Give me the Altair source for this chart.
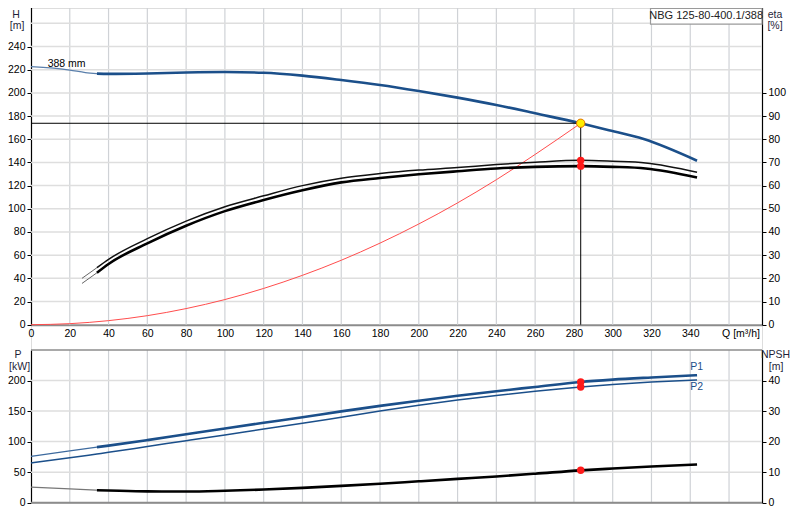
import altair as alt
import pandas as pd

# ---------------- data ----------------
# pump head curve  (Q [m3/h], H [m])
h_q   = [0, 20, 28, 34, 40, 60, 80, 100, 120, 140, 160, 180, 200, 220, 240, 260, 283.5, 297, 316, 343.5]
h_val = [222.6, 219.7, 217.5, 216.6, 216.4, 216.8, 217.6, 218.0, 217.4, 214.9, 211.1, 206.8,
         201.6, 195.9, 189.6, 182.4, 173.8, 168.3, 160.2, 141.5]

# system curve (red)
sys_q = [0, 20, 40, 60, 80, 100, 120, 140, 160, 180, 200, 220, 240, 260, 283.5]
sys_h = [0, 0.9, 3.5, 7.8, 13.9, 21.7, 31.3, 42.6, 55.6, 70.4, 86.9, 105.1, 125.1, 146.9, 173.8]

# efficiency curves [%]
eta_q   = [26.3, 34, 40, 60, 80, 100, 120, 140, 160, 180, 200, 220, 240, 260, 283.5, 300, 317, 343.5]
eta_up  = [20.0, 24.6, 28.2, 37.1, 44.7, 50.9, 55.6, 60.0, 63.2, 65.2, 66.7, 67.8, 69.1, 70.1, 70.9, 70.5, 69.8, 65.8]
eta_low = [17.8, 22.4, 26.2, 35.1, 42.7, 49.0, 53.8, 58.0, 61.4, 63.3, 64.9, 66.2, 67.4, 68.1, 68.4, 68.1, 67.4, 63.5]

# power P1 / P2 [kW] and NPSH [m]
p_q  = [0, 20, 34, 40, 60, 80, 100, 120, 140, 160, 180, 200, 220, 240, 260, 283.5, 300, 320, 343.5]
p1   = [76, 85, 91, 93.5, 102.5, 112, 121.5, 130.8, 140, 149.5, 158.5, 167, 175, 182.5, 189.5, 197.7, 201.5, 205, 208.7]
p2   = [65, 73.5, 79.8, 82.5, 92, 101.5, 111, 120.5, 130, 140, 150, 159.5, 168, 175.5, 182.5, 189.5, 193.5, 197.5, 201]
npsh = [5.1, 4.5, 4.1, 4.0, 3.7, 3.65, 3.9, 4.3, 4.85, 5.5, 6.2, 7.0, 7.8, 8.6, 9.5, 10.6, 11.2, 11.85, 12.5]

# duty point
op_q = [283.5]
op_h = [173.8]
op_eta = [70.9, 68.4]
op_p = [197.7, 189.5]
op_npsh = [10.6]

# tick / grid values
q_labels = list(range(0, 341, 20))
q_grid = list(range(20, 361, 20))
h_ticks = list(range(0, 241, 20))
h_grid = list(range(20, 281, 20))
eta_ticks = list(range(0, 101, 10))
p_ticks = [0, 50, 100, 150, 200]
p_grid = [50, 100, 150, 200]
npsh_ticks = [0, 10, 20, 30, 40]

THICK_FROM = 34

# ---------------- frames ----------------
dfH = pd.DataFrame({"Q": h_q, "H": h_val})
dfSys = pd.DataFrame({"Q": sys_q, "H": sys_h})
dfEta = pd.DataFrame({"Q": eta_q, "up": eta_up, "low": eta_low})
dfP = pd.DataFrame({"Q": p_q, "P1": p1, "P2": p2, "NPSH": npsh})
dfOp = pd.DataFrame({"Q": op_q, "H": op_h, "Qs": [0] * len(op_q), "Hs": [0] * len(op_h)})
dfOpEta = pd.DataFrame({"Q": op_q * len(op_eta), "v": op_eta})
dfOpP = pd.DataFrame({"Q": op_q * len(op_p), "v": op_p})
dfOpN = pd.DataFrame({"Q": op_q, "v": op_npsh})
dfQg = pd.DataFrame({"Q": q_grid})
dfHg = pd.DataFrame({"H": h_grid})
dfPg = pd.DataFrame({"P": p_grid})

# ---------------- geometry / scales ----------------
W, HT = 731, 495
H0, KH = 316.7, 1.159          # pixel row of H=0, pixels per metre
P0, KP = 494.7, 0.6108         # pixel row of P=0, pixels per kW
FONT = "Liberation Sans"
BLUE = "#1b4f8a"
GRID = "#cfd2d6"

XS = alt.Scale(domain=[0, 377], nice=False, zero=False)
SH = alt.Scale(domain=[0, 280], range=[H0, H0 - 280 * KH], nice=False, zero=False)
SE = alt.Scale(domain=[0, 140], range=[H0, H0 - 280 * KH], nice=False, zero=False)
SP = alt.Scale(domain=[0, 250], range=[P0, P0 - 250 * KP], nice=False, zero=False)
SN = alt.Scale(domain=[0, 50], range=[P0, P0 - 250 * KP], nice=False, zero=False)

x_axis = alt.Axis(values=q_labels, title=None, orient="bottom", offset=-(HT - H0), grid=False,
                  ticks=False, tickSize=0, domain=True, domainColor="#8c8c8c", domainWidth=2,
                  labelPadding=4, labelFontSize=10.5, labelColor="#000", labelFont=FONT,
                  labelFlush=False)


def yaxis(orient, values):
    return alt.Axis(orient=orient, values=values, title=None, grid=False, domain=True,
                    domainColor="#000", domainWidth=1.2, ticks=True, tickColor="#000",
                    tickSize=4, labelPadding=2, labelFontSize=10.5, labelColor="#000",
                    labelFont=FONT)


X = alt.X("Q:Q", scale=XS, axis=x_axis)


def xd(v):
    return alt.XDatum(v, type="quantitative", scale=XS, axis=x_axis)


def yd(v, scale):
    return alt.YDatum(v, type="quantitative", scale=scale, axis=None)


def yf(field, scale, axis=None):
    return alt.Y(field, type="quantitative", scale=scale, axis=axis)


def line(df, field, scale, color, width, axis=None):
    return alt.Chart(df).mark_line(color=color, strokeWidth=width, interpolate="monotone").encode(
        x=X, y=yf(field, scale, axis))


one = alt.Data(values=[{"k": 0}])
layers = []

# grid lines – top panel
layers.append(alt.Chart(dfQg).mark_rule(color=GRID, strokeWidth=1.2).encode(
    x=X, y=yd(0, SH), y2=alt.datum(280)))
layers.append(alt.Chart(dfHg).mark_rule(color="#dedede", strokeWidth=1.5).encode(
    y=yf("H", SH), x=xd(0), x2=alt.datum(377)))
# grid lines – bottom panel
layers.append(alt.Chart(dfQg).mark_rule(color=GRID, strokeWidth=1.2).encode(
    x=X, y=yd(0, SP), y2=alt.datum(250)))
layers.append(alt.Chart(dfPg).mark_rule(color="#dedede", strokeWidth=1.5).encode(
    y=yf("P", SP), x=xd(0), x2=alt.datum(377)))
# bottom panel frame lines
layers.append(alt.Chart(one).mark_rule(color="#8c8c8c", strokeWidth=1.5).encode(
    y=yd(250, SP), x=xd(0), x2=alt.datum(377)))
layers.append(alt.Chart(one).mark_rule(color="#8c8c8c", strokeWidth=2).encode(
    y=yd(0, SP), x=xd(0), x2=alt.datum(377)))

# system curve
layers.append(line(dfSys, "H", SH, "#ff4d4d", 1))

# efficiency curves
thinE = dfEta[dfEta.Q <= THICK_FROM]
thickE = dfEta[dfEta.Q >= THICK_FROM]
layers.append(line(thinE, "up", SE, "#666666", 1))
layers.append(line(thinE, "low", SE, "#666666", 1))
layers.append(line(thickE, "up", SE, "#111111", 1.5, axis=yaxis("right", eta_ticks)))
layers.append(line(thickE, "low", SE, "#000000", 2.6))

# head curve
thinH = dfH[dfH.Q <= THICK_FROM]
thickH = dfH[dfH.Q >= THICK_FROM]
layers.append(line(thinH, "H", SH, "#5a7fab", 1.3))
layers.append(line(thickH, "H", SH, BLUE, 2.6, axis=yaxis("left", h_ticks)))

# power curves
thinP = dfP[dfP.Q <= THICK_FROM]
thickP = dfP[dfP.Q >= THICK_FROM]
layers.append(line(thinP, "P1", SP, "#3d6a9e", 1.3))
layers.append(line(thickP, "P1", SP, BLUE, 2.6, axis=yaxis("left", p_ticks)))
layers.append(line(dfP, "P2", SP, BLUE, 1.5))

# NPSH curve
layers.append(line(thinP, "NPSH", SN, "#777777", 1.3))
layers.append(line(thickP, "NPSH", SN, "#000000", 2.6, axis=yaxis("right", npsh_ticks)))

# duty point lines
layers.append(alt.Chart(dfOp).mark_rule(color="#000", strokeWidth=1).encode(
    y=yf("H", SH), x=alt.X("Qs:Q", scale=XS, axis=x_axis), x2=alt.X2("Q")))
layers.append(alt.Chart(dfOp).mark_rule(color="#000", strokeWidth=1).encode(
    x=X, y=yf("Hs", SH), y2=alt.Y2("H")))

# duty point markers
layers.append(alt.Chart(dfOp).mark_circle(size=70, color="#ffee00", stroke="#e07000",
                                          strokeWidth=1, opacity=1).encode(x=X, y=yf("H", SH)))
layers.append(alt.Chart(dfOpEta).mark_circle(size=55, color="#ff1a1a", opacity=1).encode(
    x=X, y=yf("v", SE)))
layers.append(alt.Chart(dfOpP).mark_circle(size=55, color="#ff1a1a", opacity=1).encode(
    x=X, y=yf("v", SP)))
layers.append(alt.Chart(dfOpN).mark_circle(size=55, color="#ff1a1a", opacity=1).encode(
    x=X, y=yf("v", SN)))


def label(txt, q, v, scale, color="#000", size=10.5, align="left"):
    return alt.Chart(one).mark_text(text=txt, align=align, baseline="middle", fontSize=size,
                                    font=FONT, color=color).encode(x=xd(q), y=yd(v, scale))


# annotation texts
layers.append(label("388 mm", 8.6, 224.7, SH))
layers.append(alt.Chart(one).mark_rect(fill="#ffffff", stroke="#9a9a9a", strokeWidth=1.2).encode(
    x=xd(319.5), x2=alt.datum(377), y=yd(259.4, SH), y2=alt.datum(272.9)))
layers.append(label("NBG 125-80-400.1/388", 348.2, 266.6, SH, color="#222", size=11, align="center"))
layers.append(label("Q [m³/h]", 366.2, -8.3, SH, align="center"))
layers.append(label("P1", 340, 222.7, SP, color=BLUE))
layers.append(label("P2", 340, 189.9, SP, color=BLUE))

# axis titles
TITLE_C = "#1f1f3a"
for txt, q, v, sc in [("H", -7.7, 267.6, SH), ("[m]", -7.2, 257.9, SH),
                      ("eta", 383.7, 267.6, SH), ("[%]", 383.7, 257.9, SH),
                      ("P", -6.7, 241.8, SP), ("[kW]", -5.9, 222.7, SP),
                      ("NPSH", 384.0, 241.8, SP), ("[m]", 384.3, 222.7, SP)]:
    layers.append(label(txt, q, v, sc, color=TITLE_C, size=10.5, align="center"))

chart = alt.layer(*layers).resolve_scale(y="independent").resolve_axis(y="independent").properties(
    width=W, height=HT,
    autosize=alt.AutoSizeParams(type="none"),
    padding={"left": 23, "top": 0, "right": 30, "bottom": 5},
    background="white",
).configure_view(stroke=None).configure(font=FONT)

chart.save("out.html", embed_options={"renderer": "svg", "actions": False})
